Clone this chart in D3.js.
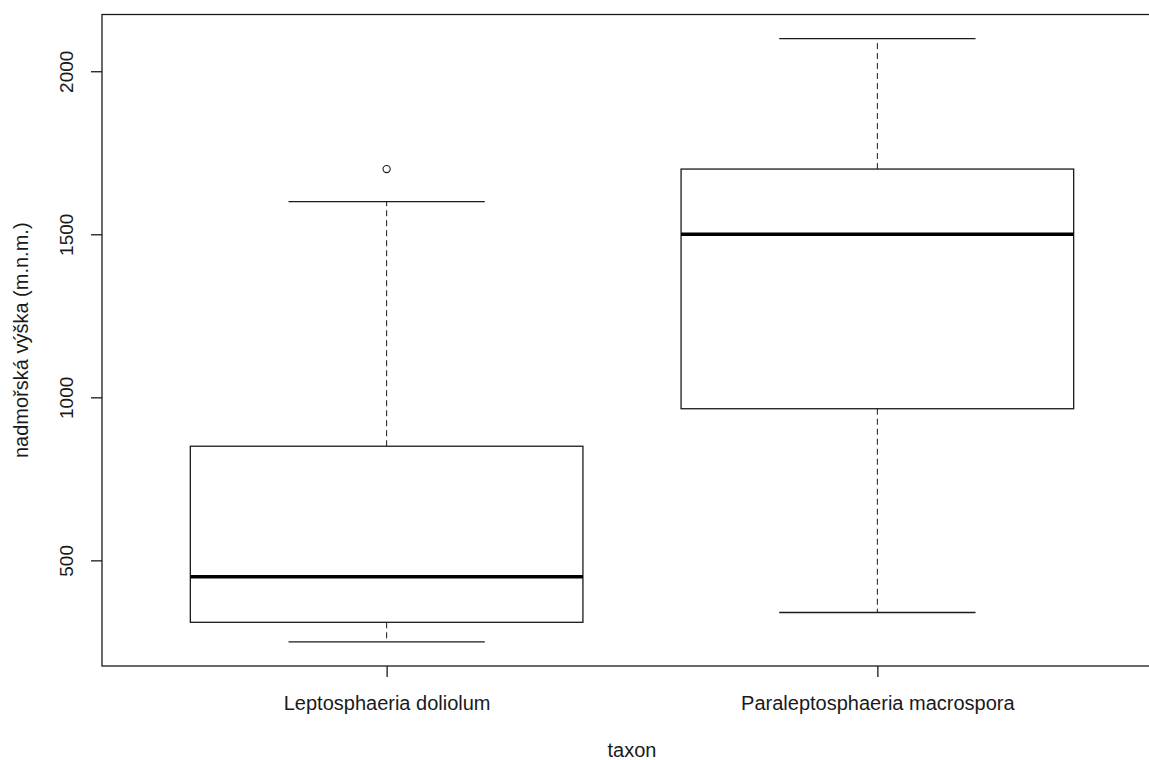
<!DOCTYPE html>
<html>
<head>
<meta charset="utf-8">
<script src="https://cdn.jsdelivr.net/npm/d3@7"></script>
<style>
  html, body { margin: 0; padding: 0; background: #fff; }
  svg { display: block; }
  text { font-family: "Liberation Sans", Arial, sans-serif; fill: #1a1a1a; }
</style>
</head>
<body>
<svg id="chart" width="1149" height="760"></svg>
<script>
// Altitude (m a.s.l.) summary per taxon
const categories   = ["Leptosphaeria doliolum", "Paraleptosphaeria macrospora"];
const whiskerLow   = [250, 340];
const quartile1    = [310, 965];
const medians      = [450, 1500];
const quartile3    = [850, 1700];
const whiskerHigh  = [1600, 2100];
const outliers     = [[1700], []];
const yTicks       = [500, 1000, 1500, 2000];

const svg = d3.select("#chart");
const plot = { left: 102, right: 1162, top: 14.5, bottom: 666 };

const x = d3.scaleLinear().domain([0.42, 2.58]).range([plot.left, plot.right]);
const y = d3.scaleLinear().domain([176, 2174]).range([plot.bottom, plot.top]);

const boxHalf = 0.4, stapleHalf = 0.2;
const ink = "#1a1a1a";

const boxes = categories.map((c, i) => ({
  cat: c, pos: i + 1,
  lo: whiskerLow[i], q1: quartile1[i], med: medians[i], q3: quartile3[i], hi: whiskerHigh[i],
  out: outliers[i]
}));

const g = svg.append("g");

boxes.forEach(b => {
  // dashed whiskers
  g.append("line")
    .attr("x1", x(b.pos)).attr("x2", x(b.pos))
    .attr("y1", y(b.q3)).attr("y2", y(b.hi))
    .attr("stroke", ink).attr("stroke-width", 1).attr("stroke-dasharray", "6,4");
  g.append("line")
    .attr("x1", x(b.pos)).attr("x2", x(b.pos))
    .attr("y1", y(b.q1)).attr("y2", y(b.lo))
    .attr("stroke", ink).attr("stroke-width", 1).attr("stroke-dasharray", "6,4");
  // staples
  [b.lo, b.hi].forEach(v => {
    g.append("line")
      .attr("x1", x(b.pos - stapleHalf)).attr("x2", x(b.pos + stapleHalf))
      .attr("y1", y(v)).attr("y2", y(v))
      .attr("stroke", ink).attr("stroke-width", 1.3);
  });
  // box
  g.append("rect")
    .attr("x", x(b.pos - boxHalf))
    .attr("y", y(b.q3))
    .attr("width", x(b.pos + boxHalf) - x(b.pos - boxHalf))
    .attr("height", y(b.q1) - y(b.q3))
    .attr("fill", "none").attr("stroke", ink).attr("stroke-width", 1.3);
  // median
  g.append("line")
    .attr("x1", x(b.pos - boxHalf)).attr("x2", x(b.pos + boxHalf))
    .attr("y1", y(b.med)).attr("y2", y(b.med))
    .attr("stroke", "#000").attr("stroke-width", 3.5);
  // outliers
  b.out.forEach(v => {
    g.append("circle")
      .attr("cx", x(b.pos)).attr("cy", y(v)).attr("r", 3.6)
      .attr("fill", "none").attr("stroke", ink).attr("stroke-width", 1.1);
  });
});

// plot frame
svg.append("rect")
  .attr("x", plot.left).attr("y", plot.top)
  .attr("width", plot.right - plot.left).attr("height", plot.bottom - plot.top)
  .attr("fill", "none").attr("stroke", ink).attr("stroke-width", 1.3);

// y axis
const yAxis = svg.append("g")
  .attr("transform", `translate(${plot.left},0)`)
  .call(d3.axisLeft(y).tickValues(yTicks).tickSize(11).tickSizeOuter(0).tickFormat(d3.format("d")));
yAxis.select(".domain").remove();
yAxis.selectAll(".tick line").attr("stroke", ink).attr("stroke-width", 1.3);
yAxis.selectAll(".tick text")
  .attr("x", 0).attr("dy", null)
  .attr("transform", "translate(-36,0) rotate(-90)")
  .attr("text-anchor", "middle")
  .attr("dominant-baseline", "central")
  .style("font-family", "'Liberation Sans', Arial, sans-serif")
  .style("font-size", "19px")
  .attr("fill", ink);

// x axis
const xAxis = svg.append("g")
  .attr("transform", `translate(0,${plot.bottom})`)
  .call(d3.axisBottom(x).tickValues([1, 2]).tickSize(11).tickSizeOuter(0)
    .tickFormat(d => categories[d - 1]));
xAxis.select(".domain").remove();
xAxis.selectAll(".tick line").attr("stroke", ink).attr("stroke-width", 1.3);
xAxis.selectAll(".tick text")
  .attr("y", 44).attr("dy", null)
  .style("font-family", "'Liberation Sans', Arial, sans-serif")
  .style("font-size", "20px")
  .attr("fill", ink);

// axis titles
svg.append("text")
  .attr("x", (plot.left + plot.right) / 2).attr("y", 757)
  .attr("text-anchor", "middle")
  .style("font-size", "20px")
  .text("taxon");

svg.append("text")
  .attr("transform", `translate(28,${(plot.top + plot.bottom) / 2}) rotate(-90)`)
  .attr("text-anchor", "middle")
  .style("font-size", "20px")
  .text("nadmořská výška (m.n.m.)");
</script>
</body>
</html>
